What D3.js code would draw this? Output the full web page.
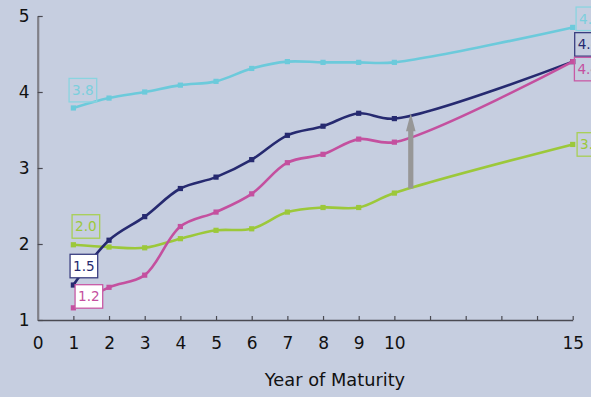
<!DOCTYPE html>
<html>
<head>
<meta charset="utf-8">
<script src="https://cdn.jsdelivr.net/npm/d3@7/dist/d3.min.js"></script>
<style>
  html, body { margin: 0; padding: 0; background: #c6cee0; }
  svg { display: block; font-family: "DejaVu Sans", Verdana, sans-serif; }
</style>
</head>
<body>
<svg id="chart" width="591" height="397"></svg>
<script>
// Years to maturity sampled on the x axis
const years = [1, 2, 3, 4, 5, 6, 7, 8, 9, 10, 15];

// Yield curves, one value per maturity year
const curveTop    = [3.79, 3.92, 4.00, 4.09, 4.14, 4.31, 4.40, 4.39, 4.39, 4.39, 4.85];
const curveNavy   = [1.46, 2.05, 2.36, 2.73, 2.88, 3.11, 3.43, 3.55, 3.72, 3.65, 4.40];
const curvePink   = [1.16, 1.43, 1.59, 2.23, 2.42, 2.66, 3.07, 3.18, 3.38, 3.34, 4.40];
const curveGreen  = [1.99, 1.96, 1.95, 2.07, 2.18, 2.20, 2.42, 2.48, 2.48, 2.67, 3.31];

// Axis ticks
const xTicks = d3.range(0, 16);
const xTickLabels = [0, 1, 2, 3, 4, 5, 6, 7, 8, 9, 10, 15];
const yTicks = [1, 2, 3, 4, 5];
const xTitle = "Year of Maturity";

// Maturity at which the spread arrow is drawn
const arrowYear = 10.46;

const W = 591, H = 397;
const svg = d3.select("#chart");
svg.append("rect").attr("width", W).attr("height", H).attr("fill", "#c6cee0");

const x = d3.scaleLinear().domain([0, 15]).range([37.7, 572.7]);
const y = d3.scaleLinear().domain([1, 5]).range([320, 16]);

// x axis
const xAxis = svg.append("g")
  .attr("transform", `translate(0,${y(1)})`)
  .call(d3.axisBottom(x)
    .tickValues(xTicks)
    .tickSizeInner(-4)
    .tickSizeOuter(0)
    .tickPadding(17)
    .tickFormat(d => xTickLabels.includes(d) ? String(d) : ""));
xAxis.select(".domain").attr("stroke", "#4a4a52").attr("stroke-width", 1.6);
xAxis.selectAll(".tick line").attr("stroke", "#4a4a52").attr("stroke-width", 1.2);
xAxis.selectAll(".tick text").attr("font-size", 17).attr("fill", "#111")
  .attr("font-family", "DejaVu Sans, Verdana, sans-serif");
xAxis.selectAll(".tick").filter(d => d === 0).select("line").remove();

// y axis
const yAxis = svg.append("g")
  .attr("transform", `translate(${x(0)},0)`)
  .call(d3.axisLeft(y)
    .tickValues(yTicks)
    .tickSizeInner(-5)
    .tickSizeOuter(0)
    .tickPadding(8)
    .tickFormat(d3.format("d")));
yAxis.select(".domain").attr("stroke", "#808088").attr("stroke-width", 2.2);
yAxis.selectAll(".tick line").attr("stroke", "#4a4a52").attr("stroke-width", 1.2);
yAxis.selectAll(".tick text").attr("font-size", 17).attr("fill", "#111")
  .attr("font-family", "DejaVu Sans, Verdana, sans-serif");

// axis title
svg.append("text")
  .attr("x", 335).attr("y", 386)
  .attr("text-anchor", "middle")
  .attr("font-size", 17.8).attr("fill", "#111")
  .text(xTitle);

const series = [
  { name: "top",   values: curveTop,   color: "#6ccadb", text: "#7ccfdd", box: "#8ad4e0", fillL: "none",  fillR: "none",
    left: { dx: -4.3, dy: -17.8 }, right: { dx: 3.4, dy: -8.6 } },
  { name: "green", values: curveGreen, color: "#9cc83a", text: "#9cc83a", box: "#a8cf55", fillL: "none",  fillR: "none",
    left: { dx: -1.3, dy: -18.3 }, right: { dx: 4.4, dy: 0 } },
  { name: "navy",  values: curveNavy,  color: "#262a70", text: "#262a70", box: "#3a3e80", fillL: "#ffffff", fillR: "none",
    left: { dx: -3.3, dy: -19 }, right: { dx: 2, dy: -17.2 } },
  { name: "pink",  values: curvePink,  color: "#c4509f", text: "#c4509f", box: "#c85aa5", fillL: "#ffffff", fillR: "none",
    left: { dx: 1.7, dy: -11.4 }, right: { dx: 1.7, dy: 7.5 } }
];

const line = d3.line()
  .x(d => x(d[0]))
  .y(d => y(d[1]))
  .curve(d3.curveCatmullRom.alpha(0.5));

// lines and square markers
series.forEach(s => {
  const pts = years.map((yr, i) => [yr, s.values[i]]);
  svg.append("path")
    .attr("d", line(pts))
    .attr("fill", "none")
    .attr("stroke", s.color)
    .attr("stroke-width", 2.6)
    .attr("stroke-linejoin", "round");
  svg.append("g").selectAll("rect")
    .data(pts)
    .join("rect")
    .attr("x", d => x(d[0]) - 2.6)
    .attr("y", d => y(d[1]) - 2.6)
    .attr("width", 5.2).attr("height", 5.2)
    .attr("fill", s.color);
});

// spread arrow from the lowest curve up to the navy curve
function valueAt(vals, yr) {
  for (let i = 0; i < years.length - 1; i++) {
    if (yr >= years[i] && yr <= years[i + 1]) {
      const t = (yr - years[i]) / (years[i + 1] - years[i]);
      return vals[i] + t * (vals[i + 1] - vals[i]);
    }
  }
  return vals[vals.length - 1];
}
{
  const ax = x(arrowYear);
  const y0 = y(valueAt(curveGreen, arrowYear));
  const y1 = y(valueAt(curveNavy, arrowYear));
  const sw = 2.6, hw = 4.8, hl = 18;
  const p = d3.path();
  p.moveTo(ax - sw, y0);
  p.lineTo(ax - sw, y1 + hl);
  p.lineTo(ax - hw, y1 + hl);
  p.lineTo(ax, y1);
  p.lineTo(ax + hw, y1 + hl);
  p.lineTo(ax + sw, y1 + hl);
  p.lineTo(ax + sw, y0);
  p.closePath();
  svg.append("path").attr("d", p.toString()).attr("fill", "#979797");
}

// value labels at both ends of each curve
function addLabel(s, idx, off, fill) {
  const px = x(years[idx]), py = y(s.values[idx]);
  const g = svg.append("g");
  const rect = g.append("rect");
  const t = g.append("text")
    .attr("font-size", 13.6)
    .attr("fill", s.text)
    .text(s.values[idx].toFixed(1));
  const tw = t.node().getComputedTextLength();
  const left = px + off.dx, cy = py + off.dy;
  const bw = tw + 6, bh = 23.5;
  rect.attr("x", left).attr("y", cy - bh / 2)
    .attr("width", bw).attr("height", bh)
    .attr("fill", fill)
    .attr("stroke", s.box).attr("stroke-width", 1.3);
  t.attr("x", left + 3).attr("y", cy + 5);
}
series.forEach(s => {
  addLabel(s, 0, s.left, s.fillL);
  addLabel(s, years.length - 1, s.right, s.fillR);
});
</script>
</body>
</html>
